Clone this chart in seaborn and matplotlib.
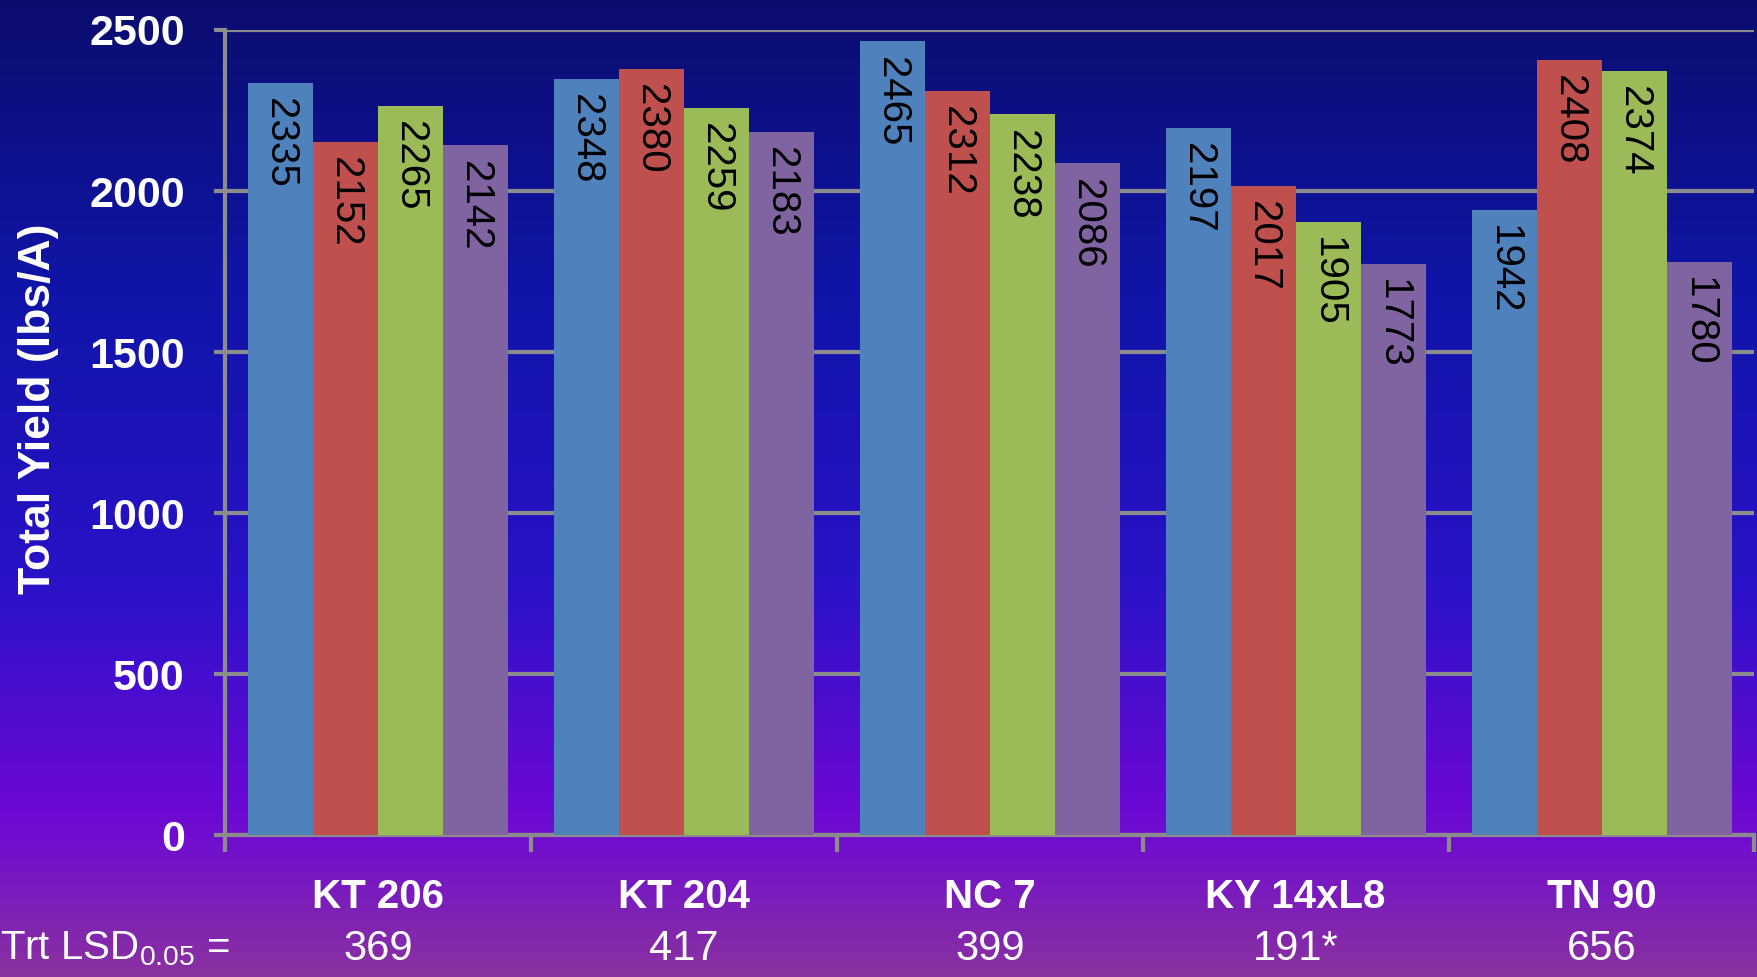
import numpy as np
import pandas as pd
import seaborn as sns
import matplotlib.pyplot as plt
from matplotlib.colors import LinearSegmentedColormap

# values
varieties = ['KT 206', 'KT 204', 'NC 7', 'KY 14xL8', 'TN 90']
treatments = ['Trt 1', 'Trt 2', 'Trt 3', 'Trt 4']
trt1 = [2335, 2348, 2465, 2197, 1942]
trt2 = [2152, 2380, 2312, 2017, 2408]
trt3 = [2265, 2259, 2238, 1905, 2374]
trt4 = [2142, 2183, 2086, 1773, 1780]
lsd = ['369', '417', '399', '191*', '656']
yticks = [0, 500, 1000, 1500, 2000, 2500]

bar_colors = ['#4F81BD', '#C0504D', '#9BBB59', '#8064A2']
grid_gray = '#8c8c8c'

df = pd.DataFrame({
    'variety': np.repeat(varieties, 4),
    'trt': treatments * len(varieties),
    'yield': np.array([trt1, trt2, trt3, trt4]).T.ravel(),
})

sns.set_theme(style='white')
plt.rcParams['font.family'] = ['Liberation Sans', 'DejaVu Sans']

fig = plt.figure(figsize=(17.58, 9.77), dpi=100)

# slide background gradient
bg = fig.add_axes([0, 0, 1, 1], zorder=-10)
cmap = LinearSegmentedColormap.from_list('bg', [
    (0.0, '#0b0d6e'), (0.3, '#1015a8'), (0.6, '#2a12c8'),
    (0.82, '#6a08d5'), (0.87, '#7210cc'), (1.0, '#8a32a0')])
bg.imshow(np.linspace(0, 1, 256).reshape(-1, 1), aspect='auto', cmap=cmap,
          extent=[0, 1, 1, 0])
bg.set_axis_off()

ax = fig.add_axes([0.128, 0.1453, 0.870, 0.824])
ax.patch.set_alpha(0)
sns.barplot(data=df, x='variety', y='yield', hue='trt', palette=bar_colors,
            width=0.85, saturation=1, ax=ax, legend=False, zorder=3,
            edgecolor='none', linewidth=0)

for cont in ax.containers:
    for bar in cont:
        h = bar.get_height()
        ax.annotate(f'{h:.0f}', (bar.get_x() + bar.get_width() / 2, h),
                    xytext=(0, -11), textcoords='offset points',
                    rotation=-90, ha='center', va='top', fontsize=29,
                    color='black', zorder=4)

ax.set_ylim(0, 2500)
ax.set_xlim(-0.5, 4.5)
ax.set_yticks(yticks)
ax.yaxis.grid(True, color=grid_gray, lw=3, zorder=0)
ax.set_axisbelow(True)
for side in ['top', 'right']:
    ax.spines[side].set_visible(False)
for side in ['left', 'bottom']:
    ax.spines[side].set_color(grid_gray)
    ax.spines[side].set_linewidth(3)

ax.tick_params(axis='y', length=8, width=3, color=grid_gray, pad=21, left=True)
for t in ax.get_yticklabels():
    t.set_fontweight('bold')
    t.set_fontsize(31)
    t.set_color('white')

ax.set_xticks(range(5))
ax.set_xticks(np.arange(-0.5, 5, 1), minor=True)
ax.tick_params(axis='x', which='major', length=0, pad=31)
ax.tick_params(axis='x', which='minor', length=12, width=3, color=grid_gray, bottom=True)
for t in ax.get_xticklabels():
    t.set_fontweight('bold')
    t.set_fontsize(29)
    t.set_color('white')

ax.set_xlabel('')
ax.set_ylabel('Total Yield (lbs/A)', fontsize=32, fontweight='bold',
              color='white')
ax.yaxis.set_label_coords(-0.128 + 0.017 / 0.870, 0.53)

# LSD row under the variety names
for i, v in enumerate(lsd):
    ax.text(i, -0.1416, v, transform=ax.get_xaxis_transform(), ha='center',
            va='center', fontsize=30, color='white')
ax.text(-0.128 / 0.870, -0.1416, r'Trt LSD$_{\mathregular{0.05}}$ =',
        transform=ax.transAxes, ha='left', va='center', fontsize=29,
        color='white')

fig.savefig('out.png', dpi=100)
